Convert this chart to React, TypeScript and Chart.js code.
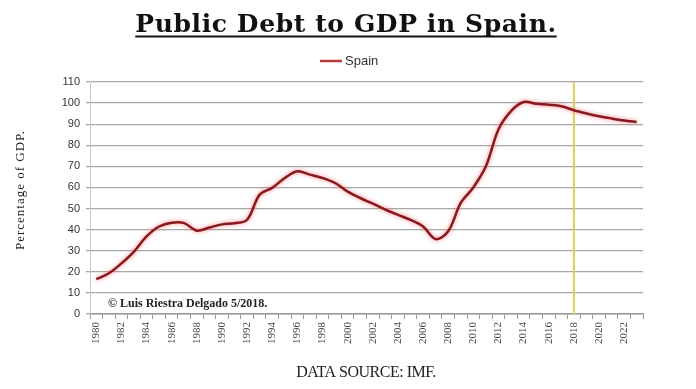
import React, { useEffect, useRef } from "react";
import { Chart, registerables } from "chart.js";

Chart.register(...registerables);

const years: string[] = [
  "1980","1981","1982","1983","1984","1985","1986","1987","1988","1989",
  "1990","1991","1992","1993","1994","1995","1996","1997","1998","1999",
  "2000","2001","2002","2003","2004","2005","2006","2007","2008","2009",
  "2010","2011","2012","2013","2014","2015","2016","2017","2018","2019",
  "2020","2021","2022","2023",
];

const spainDebt: number[] = [
  16.5, 19.3, 24.0, 29.6, 36.8, 41.5, 43.3, 43.1, 39.5, 41.0,
  42.5, 43.0, 44.7, 56.6, 59.8, 64.5, 67.7, 66.1, 64.5, 62.1,
  58.0, 55.0, 52.3, 49.5, 47.0, 44.6, 41.5, 35.5, 39.2, 52.7,
  60.0, 70.0, 87.5, 96.2, 100.5, 99.7, 99.2, 98.5, 96.6, 95.1,
  93.8, 92.7, 91.7, 91.0,
];

const yTicks: number[] = [0, 10, 20, 30, 40, 50, 60, 70, 80, 90, 100, 110];
const markerYear = "2018";

const titleText = "Public Debt to GDP in Spain.";
const legendText = "Spain";
const yTitleText = "Percentage of GDP.";
const copyrightText = "© Luis Riestra Delgado 5/2018.";
const sourceText = "DATA SOURCE: IMF.";

const LINE_COLOR = "#861a1e";
const LEGEND_COLOR = "#b8383c";

export default function App() {
  const canvasRef = useRef<HTMLCanvasElement | null>(null);

  useEffect(() => {
    document.body.style.margin = "0";
    const canvas = canvasRef.current;
    if (!canvas) return;

    const decorations = {
      id: "decorations",
      beforeDatasetsDraw(chart: any) {
        const { ctx, chartArea, scales } = chart;
        const x = scales.x.getPixelForValue(years.indexOf(markerYear));
        ctx.save();
        ctx.strokeStyle = "#ddd05a";
        ctx.lineWidth = 2;
        ctx.beginPath();
        ctx.moveTo(x, chartArea.top);
        ctx.lineTo(x, chartArea.bottom);
        ctx.stroke();
        ctx.restore();
        ctx.save();
        ctx.shadowColor = "rgba(255,110,110,0.9)";
        ctx.shadowBlur = 4;
      },
      afterDatasetsDraw(chart: any) {
        chart.ctx.restore();
      },
      afterDraw(chart: any) {
        const { ctx } = chart;
        ctx.save();
        // title
        ctx.font = 'bold 25px "DejaVu Serif"';
        (ctx as any).letterSpacing = "0.6px";
        ctx.fillStyle = "#111";
        ctx.textAlign = "left";
        ctx.textBaseline = "alphabetic";
        const ty = 32;
        const w = ctx.measureText(titleText).width;
        const tx = 346 - w / 2;
        ctx.fillText(titleText, tx, ty);
        ctx.strokeStyle = "#111";
        ctx.lineWidth = 2;
        ctx.beginPath();
        ctx.moveTo(tx, ty + 4.5);
        ctx.lineTo(tx + w, ty + 4.5);
        ctx.stroke();
        (ctx as any).letterSpacing = "0px";

        // legend
        ctx.strokeStyle = LEGEND_COLOR;
        ctx.lineWidth = 2.5;
        ctx.beginPath();
        ctx.moveTo(320, 61);
        ctx.lineTo(342, 61);
        ctx.stroke();
        ctx.font = '13px "Liberation Sans"';
        ctx.fillStyle = "#333";
        ctx.textAlign = "left";
        ctx.textBaseline = "middle";
        ctx.fillText(legendText, 345, 61);

        // y title
        ctx.save();
        ctx.translate(21, 190);
        ctx.rotate(-Math.PI / 2);
        ctx.font = '13px "Liberation Serif"';
        (ctx as any).letterSpacing = "1px";
        ctx.fillStyle = "#222";
        ctx.textAlign = "center";
        ctx.textBaseline = "middle";
        ctx.fillText(yTitleText, 0, 0);
        ctx.restore();
        (ctx as any).letterSpacing = "0px";

        // copyright
        ctx.font = 'bold 12px "Liberation Serif"';
        ctx.fillStyle = "#222";
        ctx.textAlign = "left";
        ctx.textBaseline = "alphabetic";
        ctx.fillText(copyrightText, 108, 307);

        // source
        ctx.font = '16px "Liberation Serif"';
        (ctx as any).letterSpacing = "-0.5px";
        ctx.fillStyle = "#222";
        ctx.textAlign = "center";
        ctx.fillText(sourceText, 366, 377);
        ctx.restore();
      },
    };

    const chart = new Chart(canvas, {
      type: "line",
      data: {
        labels: years,
        datasets: [
          {
            label: legendText,
            data: spainDebt,
            borderColor: LINE_COLOR,
            backgroundColor: LINE_COLOR,
            borderWidth: 2.5,
            pointRadius: 0,
            tension: 0.35,
            fill: false,
          },
        ],
      },
      options: {
        animation: false,
        responsive: false,
        layout: { padding: { top: 82, right: 53, bottom: 0, left: 0 } },
        plugins: {
          legend: { display: false },
          title: { display: false },
          tooltip: { enabled: false },
        },
        scales: {
          x: {
            offset: true,
            grid: {
              display: true,
              offset: true,
              drawOnChartArea: false,
              drawTicks: true,
              tickLength: 5,
              color: "#9a9a9a",
            },
            border: { display: true, color: "#9a9a9a", width: 1.5 },
            ticks: {
              autoSkip: false,
              minRotation: 90,
              maxRotation: 90,
              padding: 3,
              font: { family: '"Liberation Serif"', size: 11 },
              color: "#444",
              callback: (_v: any, i: number) => (i % 2 === 0 ? years[i] : ""),
            },
            afterFit: (scale: any) => {
              scale.height = 75;
            },
          },
          y: {
            min: 0,
            max: 110,
            afterBuildTicks: (scale: any) => {
              scale.ticks = yTicks.map((v) => ({ value: v }));
            },
            grid: {
              color: "#a8a8a8",
              lineWidth: 1.3,
              tickLength: 4,
            },
            border: { display: true, color: "#c8c8c8" },
            ticks: {
              padding: 6,
              font: { family: '"Liberation Sans"', size: 11 },
              color: "#333",
            },
            afterFit: (scale: any) => {
              scale.width = 90;
            },
          },
        },
      },
      plugins: [decorations],
    });

    return () => chart.destroy();
  }, []);

  return (
    <div style={{ position: "fixed", left: 0, top: 0, width: 696, height: 389, background: "#fff" }}>
      <canvas ref={canvasRef} width={696} height={389} style={{ width: 696, height: 389 }} />
    </div>
  );
}
